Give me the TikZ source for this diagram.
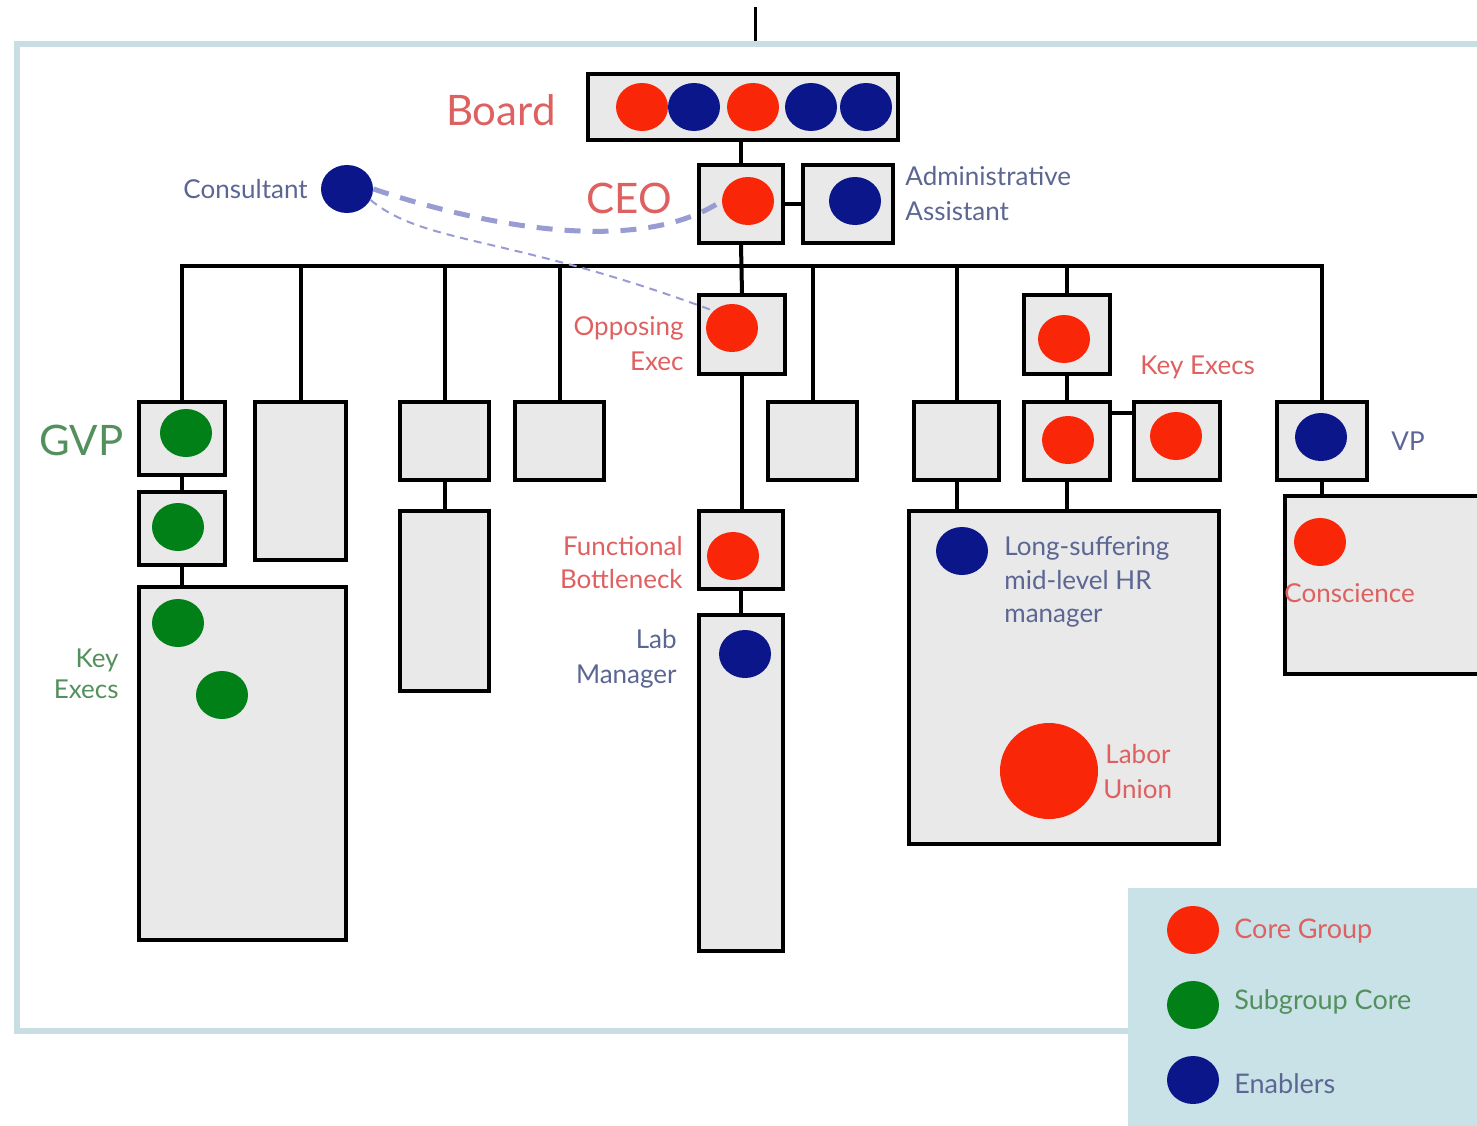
\documentclass[tikz,border=0pt]{standalone}
\usepackage{fontspec}
\setmainfont{Lato}
\usetikzlibrary{shapes.geometric}

\definecolor{corered}{RGB}{250,38,8}
\definecolor{subgreen}{RGB}{0,128,22}
\definecolor{enabblue}{RGB}{10,22,138}
\definecolor{boxgray}{RGB}{233,233,233}
\definecolor{framecol}{RGB}{200,222,227}
\definecolor{legendcol}{RGB}{200,226,231}
\definecolor{redtxt}{RGB}{222,96,96}
\definecolor{bluetxt}{RGB}{92,102,146}
\definecolor{greentxt}{RGB}{84,144,94}
\definecolor{linkcol}{RGB}{152,156,210}

\tikzset{
  box/.style 2 args={rectangle, draw=black, fill=boxgray, line width=2pt,
    inner sep=0pt, minimum width=#1, minimum height=#2},
  conn/.style={draw=black, line width=2pt},
  dot/.style={ellipse, inner sep=0pt, minimum width=26pt, minimum height=24pt},
  core/.style={dot, fill=corered},
  sub/.style={dot, fill=subgreen},
  enab/.style={dot, fill=enabblue},
  lbl/.style={inner sep=0pt, font=\fontsize{13}{17.5}\selectfont},
  biglbl/.style={inner sep=0pt, font=\fontsize{21}{25}\selectfont},
  leglbl/.style={inner sep=0pt, font=\fontsize{13.5}{17}\selectfont},
  linkthick/.style={draw=linkcol, line width=2.5pt, dash pattern=on 8pt off 6pt},
  linkthin/.style={draw=linkcol, line width=1pt, dash pattern=on 4pt off 3pt},
}

\begin{document}
\begin{tikzpicture}[x=0.5pt, y=-0.5pt]
\useasboundingbox (0,0) rectangle (1477,1125);

% page frame and the short lead-in line above it
\draw[framecol, line width=3pt] (17,44) rectangle (1500,1031);
\coordinate (leadtop) at (755,7);
\coordinate (leadbot) at (755,41);
\draw[line width=1.5pt] (leadtop) -- (leadbot);

% boxes
\node[box={155pt}{33pt}]    (board) at (743,107) {};
\node[box={42pt}{39pt}]     (ceo)   at (741,204) {};
\node[box={45pt}{39pt}]     (admin) at (848,204) {};
\node[box={43pt}{39.5pt}]   (opp)   at (742,334.5) {};
\node[box={43pt}{36.5pt}]   (gvp1)  at (182,438.5) {};
\node[box={43pt}{36.5pt}]   (gvp2)  at (182,528.5) {};
\node[box={103.5pt}{176.5pt}] (gvpke) at (242.5,763.5) {};
\node[box={45.5pt}{79pt}]   (b2)    at (300.5,481) {};
\node[box={44.5pt}{39pt}]   (b3)    at (444.5,441) {};
\node[box={44.5pt}{90pt}]   (b3b)   at (444.5,601) {};
\node[box={44.5pt}{39pt}]   (b4)    at (559.5,441) {};
\node[box={42pt}{39pt}]     (func)  at (741,550) {};
\node[box={42pt}{168pt}]    (lab)   at (741,783) {};
\node[box={44.5pt}{39pt}]   (b5)    at (812.5,441) {};
\node[box={42.5pt}{39pt}]   (b6)    at (956.5,441) {};
\node[box={43pt}{39.5pt}]   (ke1)   at (1067,334.5) {};
\node[box={43pt}{39pt}]     (ke2)   at (1067,441) {};
\node[box={43pt}{39pt}]     (ke3)   at (1177,441) {};
\node[box={155pt}{166.5pt}] (hr)    at (1064,677.5) {};
\node[box={45pt}{39pt}]     (vp)    at (1322,441) {};
\node[box={102.5pt}{89pt}]  (consc) at (1387.5,585) {};

% reporting lines
\coordinate (bus) at (741,266);
\draw[conn] (ceo.north) -- (ceo.north |- board.south);
\draw[conn] (ceo.east) -- (admin.west);
\draw[conn] (ceo.south) -- (opp.north);
\foreach \n in {gvp1,b2,b3,b4,b5,b6,ke1,vp}
  \draw[conn] (\n.north) |- (bus);
\draw[conn] (gvp1.south) -- (gvp2.north);
\draw[conn] (gvp2.south) -- (gvp2.south |- gvpke.north);
\draw[conn] (b3.south) -- (b3b.north);
\draw[conn] (opp.south) -- (opp.south |- func.north);
\draw[conn] (func.south) -- (lab.north);
\draw[conn] (ke1.south) -- (ke2.north);
\draw[conn] ([yshift=-6.5pt]ke2.north east) -- ([yshift=-6.5pt]ke3.north west);
\draw[conn] (b6.south) -- (b6.south |- hr.north);
\draw[conn] (ke2.south) -- (ke2.south |- hr.north);
\draw[conn] (vp.south) -- (vp.south |- consc.north);

% people
\node[core] (bd1) at (642,107) {};
\node[enab] (bd2) at (694,107) {};
\node[core] (bd3) at (753,107) {};
\node[enab] (bd4) at (811,107) {};
\node[enab] (bd5) at (866,107) {};
\node[core] (ceoC)   at (748,201) {};
\node[enab] (adminC) at (855,201) {};
\node[enab] (cons)   at (347,189) {};
\node[core] (oppC)   at (732,328) {};
\node[sub]  (gvpC1)  at (186,433) {};
\node[sub]  (gvpC2)  at (178,527) {};
\node[sub]  (gke1)   at (178,623) {};
\node[sub]  (gke2)   at (222,695) {};
\node[core] (funcC)  at (733,556) {};
\node[enab] (labC)   at (745,654) {};
\node[core] (keC1)   at (1064,339) {};
\node[core] (keC2)   at (1068,440) {};
\node[core] (keC3)   at (1176,436) {};
\node[enab] (hrC)    at (962,551) {};
\node[core, minimum width=49pt, minimum height=48pt] (union) at (1049,771) {};
\node[enab] (vpC)    at (1321,437) {};
\node[core] (conscC) at (1320,542) {};

% consultant's influence
\draw[linkthick] (cons.east) .. controls (490,228) and (640,255) .. (ceoC.west);
\draw[linkthin] (cons.-25) .. controls (425,245) and (510,235) .. (oppC.north west);

% labels
\node[biglbl, text=redtxt, anchor=base east] (tBoard) at (556,125) {Board};
\node[biglbl, text=redtxt, anchor=base east] (tCEO) at (672,213) {CEO};
\node[biglbl, text=greentxt, anchor=base east] (tGVP) at (124,455) {GVP};
\node[lbl, text=bluetxt, anchor=base east] (tCons) at (308,198) {Consultant};
\node[lbl, text=bluetxt, anchor=base west] (tAdm1) at (905,185) {Administrative};
\node[lbl, text=bluetxt, anchor=base west] (tAdm2) at (905,220) {Assistant};
\node[lbl, text=redtxt, anchor=base east] (tOpp1) at (684,335) {Opposing};
\node[lbl, text=redtxt, anchor=base east] (tOpp2) at (684,370) {Exec};
\node[lbl, text=greentxt, anchor=base east] (tKe1) at (119,667) {Key};
\node[lbl, text=greentxt, anchor=base east] (tKe2) at (119,698) {Execs};
\node[lbl, text=redtxt, anchor=base east] (tFn1) at (683,555) {Functional};
\node[lbl, text=redtxt, anchor=base east] (tFn2) at (683,588) {Bottleneck};
\node[lbl, text=bluetxt, anchor=base east] (tLab1) at (677,648) {Lab};
\node[lbl, text=bluetxt, anchor=base east] (tLab2) at (677,683) {Manager};
\node[lbl, text=redtxt, anchor=base west] (tKeR) at (1140,374) {Key Execs};
\node[lbl, text=bluetxt, anchor=base west] (tHr1) at (1004,555) {Long-suffering};
\node[lbl, text=bluetxt, anchor=base west] (tHr2) at (1004,589) {mid-level HR};
\node[lbl, text=bluetxt, anchor=base west] (tHr3) at (1004,622) {manager};
\node[lbl, text=redtxt, anchor=base west] (tLb1) at (1105,763) {Labor};
\node[lbl, text=redtxt, anchor=base west] (tLb2) at (1103,798) {Union};
\node[lbl, text=bluetxt, anchor=base west] (tVP) at (1391,450) {VP};
\node[lbl, text=redtxt, anchor=base west] (tCsc) at (1284,602) {Conscience};

% legend
\node[fill=legendcol, inner sep=0pt, minimum width=186pt, minimum height=126pt,
      anchor=north west] (legend) at (1128,888) {};
\node[core] (lgCore) at (1193,930) {};
\node[sub]  (lgSub)  at (1193,1005) {};
\node[enab] (lgEnab) at (1193,1080) {};
\node[leglbl, text=redtxt, anchor=base west] (tlgCore) at (1234,938) {Core Group};
\node[leglbl, text=greentxt, anchor=base west] (tlgSub) at (1234,1009) {Subgroup Core};
\node[leglbl, text=bluetxt, anchor=base west] (tlgEnab) at (1234,1093) {Enablers};
\end{tikzpicture}
\end{document}
